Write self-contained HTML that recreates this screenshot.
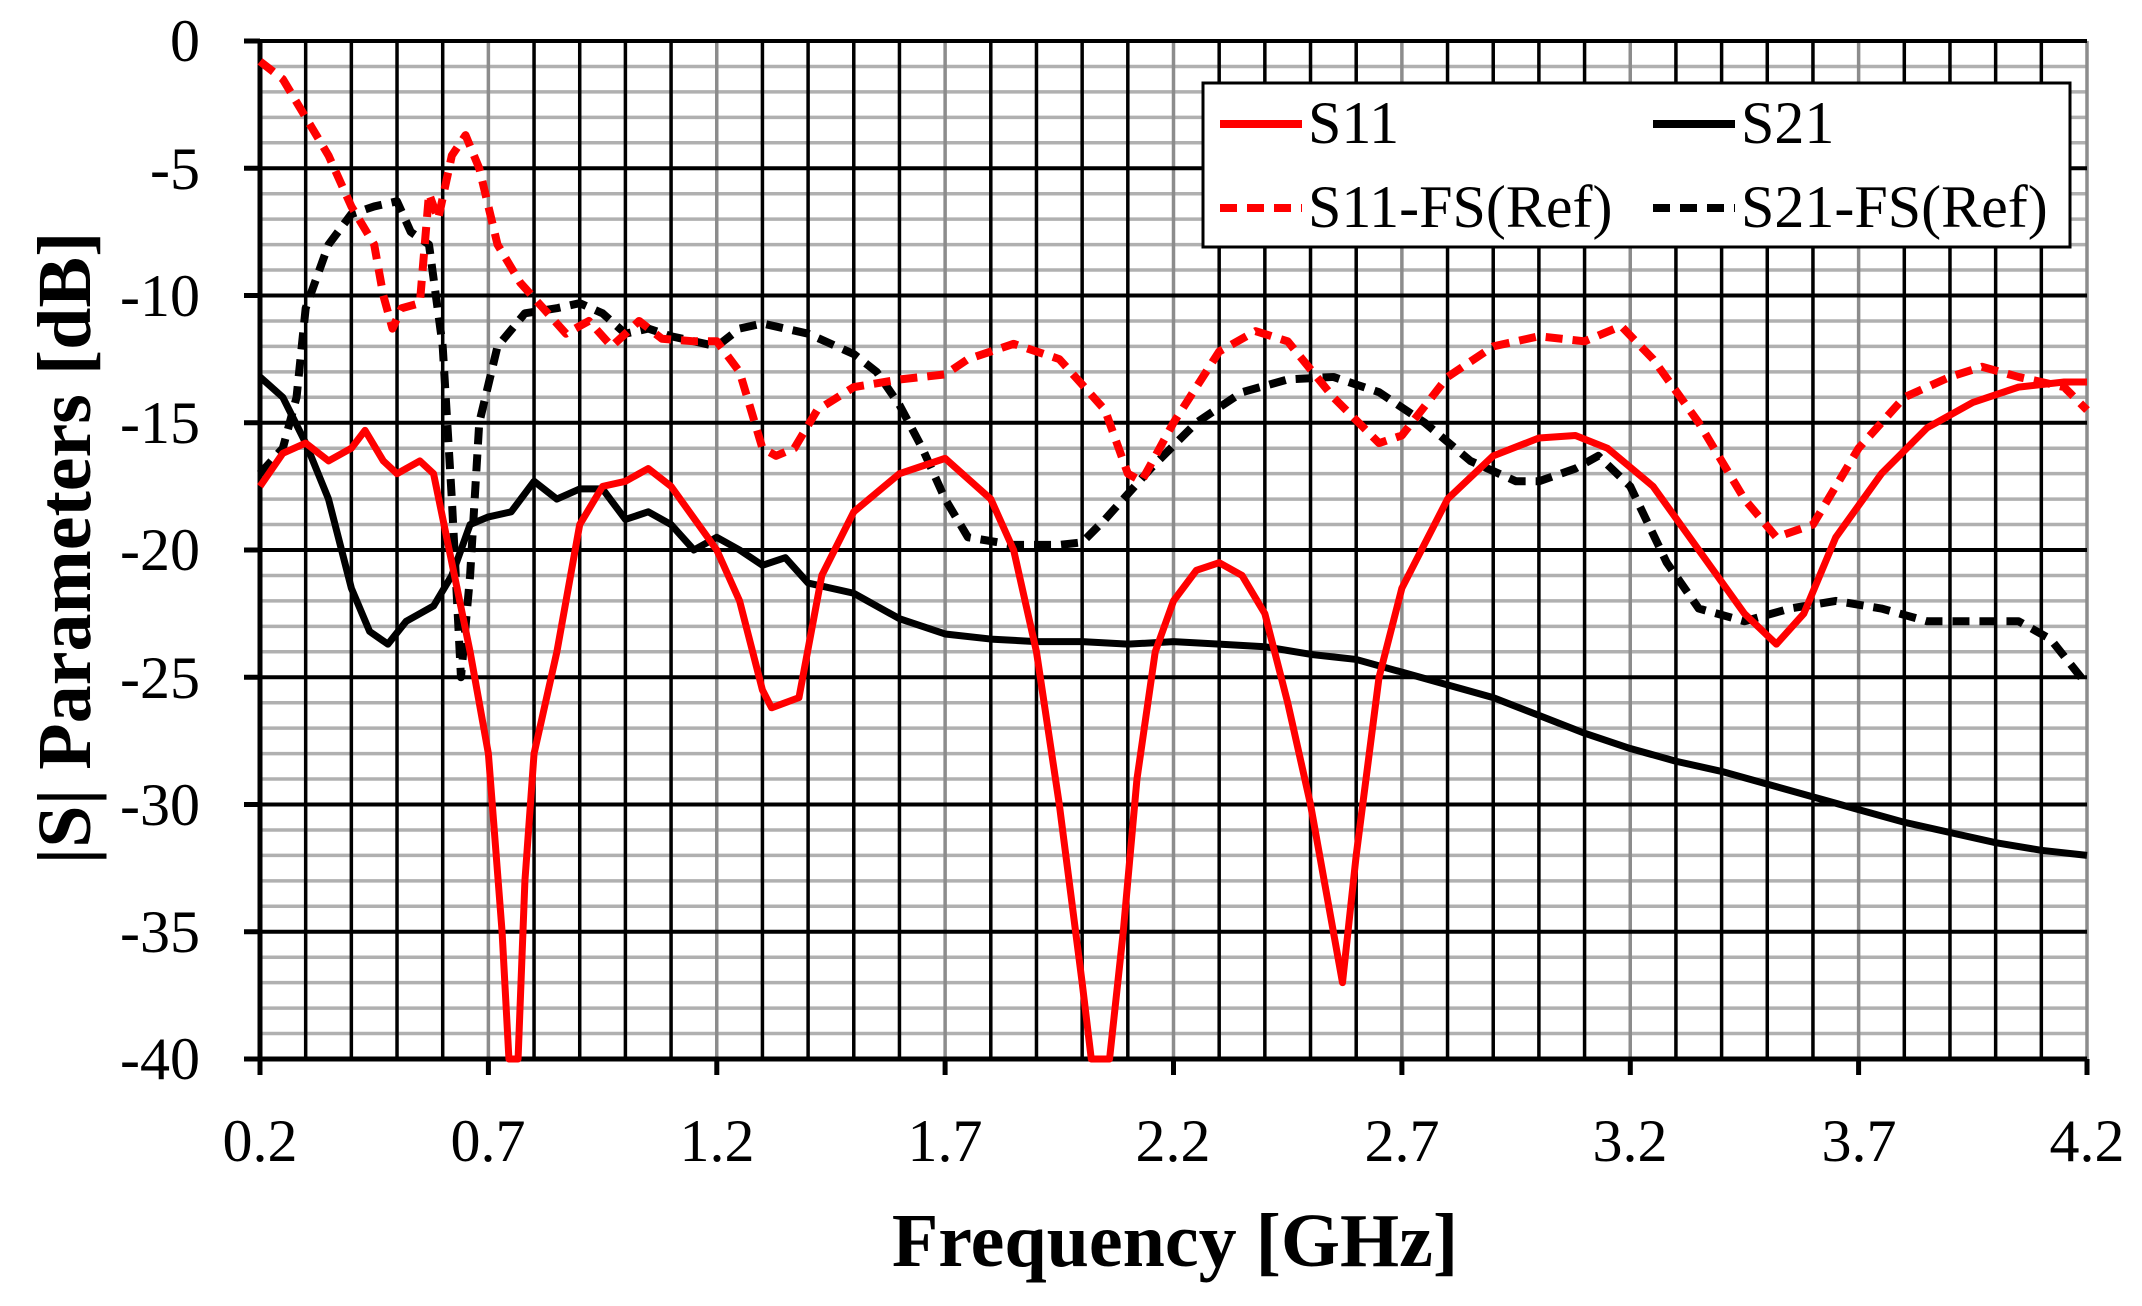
<!DOCTYPE html>
<html><head><meta charset="utf-8"><style>
html,body{margin:0;padding:0;background:#fff;}
svg{display:block;}
text{font-family:"Liberation Serif",serif;fill:#000;}
</style></head><body>
<svg width="2142" height="1306" viewBox="0 0 2142 1306" xmlns="http://www.w3.org/2000/svg">
<rect width="2142" height="1306" fill="#fff"/>
<g transform="matrix(456.75 0 0 -25.45 168.65 41)" fill="none">
<path vector-effect="non-scaling-stroke" stroke="#b0b0b0" stroke-width="3.5" d="M0.2 -1H4.2M0.2 -2H4.2M0.2 -3H4.2M0.2 -4H4.2M0.2 -6H4.2M0.2 -7H4.2M0.2 -8H4.2M0.2 -9H4.2M0.2 -11H4.2M0.2 -12H4.2M0.2 -13H4.2M0.2 -14H4.2M0.2 -16H4.2M0.2 -17H4.2M0.2 -18H4.2M0.2 -19H4.2M0.2 -21H4.2M0.2 -22H4.2M0.2 -23H4.2M0.2 -24H4.2M0.2 -26H4.2M0.2 -27H4.2M0.2 -28H4.2M0.2 -29H4.2M0.2 -31H4.2M0.2 -32H4.2M0.2 -33H4.2M0.2 -34H4.2M0.2 -36H4.2M0.2 -37H4.2M0.2 -38H4.2M0.2 -39H4.2"/>
<path vector-effect="non-scaling-stroke" stroke="#8c8c8c" stroke-width="3.5" d="M0.7 0V-40M1.2 0V-40M1.7 0V-40M2.2 0V-40M2.7 0V-40M3.2 0V-40M3.7 0V-40M4.2 0V-40"/>
<path vector-effect="non-scaling-stroke" stroke="#000" stroke-width="3.5" d="M0.3 0V-40M0.4 0V-40M0.5 0V-40M0.6 0V-40M0.8 0V-40M0.9 0V-40M1.0 0V-40M1.1 0V-40M1.3 0V-40M1.4 0V-40M1.5 0V-40M1.6 0V-40M1.8 0V-40M1.9 0V-40M2.0 0V-40M2.1 0V-40M2.3 0V-40M2.4 0V-40M2.5 0V-40M2.6 0V-40M2.8 0V-40M2.9 0V-40M3.0 0V-40M3.1 0V-40M3.3 0V-40M3.4 0V-40M3.5 0V-40M3.6 0V-40M3.8 0V-40M3.9 0V-40M4.0 0V-40M4.1 0V-40"/>
<path vector-effect="non-scaling-stroke" stroke="#000" stroke-width="4" d="M0.2 0H4.2M0.2 -5H4.2M0.2 -10H4.2M0.2 -15H4.2M0.2 -20H4.2M0.2 -25H4.2M0.2 -30H4.2M0.2 -35H4.2"/>
<path vector-effect="non-scaling-stroke" stroke="#000" stroke-width="5" d="M0.2 0V-40H4.2"/>

<path vector-effect="non-scaling-stroke" stroke="#000" stroke-width="8" stroke-dasharray="17 10" stroke-linejoin="round" d="M0.2 -17L0.25 -16L0.28 -14L0.3 -10.5L0.35 -8L0.4 -6.8L0.45 -6.5L0.5 -6.3L0.53 -7.5L0.57 -8L0.6 -12L0.62 -18L0.64 -25L0.66 -21L0.68 -15L0.72 -12L0.78 -10.7L0.85 -10.5L0.9 -10.3L0.95 -10.7L1.0 -11.5L1.05 -11.3L1.1 -11.6L1.2 -12L1.25 -11.3L1.3 -11.1L1.4 -11.5L1.5 -12.3L1.55 -13L1.6 -14.3L1.65 -16L1.7 -18L1.75 -19.5L1.85 -19.8L1.95 -19.8L2.0 -19.7L2.05 -18.8L2.15 -16.8L2.25 -15L2.35 -13.8L2.45 -13.3L2.55 -13.2L2.65 -13.8L2.75 -15L2.85 -16.5L2.95 -17.3L3.0 -17.3L3.08 -16.8L3.13 -16.3L3.2 -17.5L3.28 -20.5L3.35 -22.3L3.45 -22.8L3.55 -22.3L3.65 -22L3.75 -22.3L3.85 -22.8L3.95 -22.8L4.05 -22.8L4.12 -23.5L4.2 -25.3"/>
<path vector-effect="non-scaling-stroke" stroke="#ff0000" stroke-width="8" stroke-dasharray="17 10" stroke-linejoin="round" d="M0.2 -0.8L0.25 -1.5L0.3 -3L0.35 -4.5L0.4 -6.5L0.45 -8L0.47 -10L0.49 -11.3L0.51 -10.5L0.55 -10.3L0.57 -6L0.59 -7L0.62 -4.5L0.65 -3.7L0.68 -5L0.72 -8L0.77 -9.5L0.82 -10.5L0.87 -11.5L0.92 -11L0.97 -12L1.03 -11L1.08 -11.7L1.15 -11.8L1.2 -11.8L1.25 -13L1.3 -16L1.33 -16.3L1.37 -16L1.42 -14.5L1.5 -13.6L1.6 -13.3L1.7 -13.1L1.75 -12.5L1.85 -11.9L1.95 -12.5L2.05 -14.5L2.1 -17L2.13 -17.3L2.2 -15L2.3 -12.2L2.38 -11.4L2.45 -11.8L2.55 -14L2.65 -15.8L2.7 -15.5L2.8 -13.2L2.9 -12L3.0 -11.6L3.1 -11.8L3.18 -11.2L3.25 -12.5L3.35 -15L3.45 -18L3.52 -19.5L3.6 -19L3.7 -16L3.8 -14L3.9 -13.2L3.97 -12.8L4.05 -13.2L4.15 -13.6L4.2 -14.5"/>
<path vector-effect="non-scaling-stroke" stroke="#000" stroke-width="7" stroke-linejoin="round" d="M0.2 -13.2L0.25 -14L0.3 -15.8L0.35 -18L0.4 -21.5L0.44 -23.2L0.48 -23.7L0.52 -22.8L0.58 -22.2L0.62 -21L0.66 -19L0.7 -18.7L0.75 -18.5L0.8 -17.3L0.85 -18L0.9 -17.6L0.95 -17.6L1.0 -18.8L1.05 -18.5L1.1 -19L1.15 -20L1.2 -19.5L1.25 -20L1.3 -20.6L1.35 -20.3L1.4 -21.3L1.5 -21.7L1.6 -22.7L1.7 -23.3L1.8 -23.5L1.9 -23.6L2.0 -23.6L2.1 -23.7L2.2 -23.6L2.3 -23.7L2.4 -23.8L2.5 -24.1L2.6 -24.3L2.7 -24.8L2.8 -25.3L2.9 -25.8L3.0 -26.5L3.1 -27.2L3.2 -27.8L3.3 -28.3L3.4 -28.7L3.5 -29.2L3.6 -29.7L3.7 -30.2L3.8 -30.7L3.9 -31.1L4.0 -31.5L4.1 -31.8L4.2 -32"/>
<path vector-effect="non-scaling-stroke" stroke="#ff0000" stroke-width="7" stroke-linejoin="round" d="M0.2 -17.5L0.25 -16.2L0.3 -15.8L0.35 -16.5L0.4 -16L0.43 -15.3L0.47 -16.5L0.5 -17L0.55 -16.5L0.58 -17L0.62 -20.5L0.66 -24L0.7 -28L0.73 -35L0.745 -40L0.765 -40L0.78 -33L0.8 -28L0.85 -24L0.9 -19L0.95 -17.5L1.0 -17.3L1.05 -16.8L1.1 -17.5L1.2 -20L1.25 -22L1.3 -25.5L1.32 -26.2L1.38 -25.8L1.43 -21L1.5 -18.5L1.6 -17L1.7 -16.4L1.8 -18L1.85 -20L1.9 -24L1.95 -30L2.0 -37L2.02 -40L2.06 -40L2.09 -35L2.12 -29L2.16 -24L2.2 -22L2.25 -20.8L2.3 -20.5L2.35 -21L2.4 -22.5L2.45 -26L2.5 -30L2.55 -35L2.57 -37L2.6 -32L2.65 -25L2.7 -21.5L2.8 -18L2.9 -16.3L3.0 -15.6L3.08 -15.5L3.15 -16L3.25 -17.5L3.35 -20L3.45 -22.5L3.52 -23.7L3.58 -22.5L3.65 -19.5L3.75 -17L3.85 -15.2L3.95 -14.2L4.05 -13.6L4.15 -13.4L4.2 -13.4"/>
</g>
<path stroke="#000" stroke-width="5" fill="none" d="M260 1059v16M488.4 1059v16M716.8 1059v16M945.1 1059v16M1173.5 1059v16M1401.9 1059v16M1630.3 1059v16M1858.6 1059v16M2087 1059v16M244 41h16M244 168.25h16M244 295.5h16M244 422.75h16M244 550h16M244 677.25h16M244 804.5h16M244 931.75h16M244 1059h16"/>
<g font-size="60" text-anchor="end">
<text x="200" y="61">0</text>
<text x="200" y="189">-5</text>
<text x="200" y="316">-10</text>
<text x="200" y="443">-15</text>
<text x="200" y="570">-20</text>
<text x="200" y="698">-25</text>
<text x="200" y="825">-30</text>
<text x="200" y="952">-35</text>
<text x="200" y="1079">-40</text>
</g>
<g font-size="60" text-anchor="middle">
<text x="260" y="1161">0.2</text>
<text x="488" y="1161">0.7</text>
<text x="717" y="1161">1.2</text>
<text x="945" y="1161">1.7</text>
<text x="1173" y="1161">2.2</text>
<text x="1402" y="1161">2.7</text>
<text x="1630" y="1161">3.2</text>
<text x="1859" y="1161">3.7</text>
<text x="2087" y="1161">4.2</text>
</g>
<text x="1175" y="1266" font-size="76" font-weight="bold" text-anchor="middle">Frequency [GHz]</text>
<text transform="translate(90 548) rotate(-90)" font-size="76" font-weight="bold" text-anchor="middle">|S| Parameters [dB]</text>
<rect x="1203" y="83" width="867" height="164" fill="#fff" stroke="#000" stroke-width="3"/>
<line x1="1220" y1="124" x2="1302" y2="124" stroke="#ff0000" stroke-width="8"/>
<line x1="1653" y1="124" x2="1735" y2="124" stroke="#000" stroke-width="8"/>
<line x1="1220" y1="208" x2="1302" y2="208" stroke="#ff0000" stroke-width="8" stroke-dasharray="17 10"/>
<line x1="1653" y1="208" x2="1735" y2="208" stroke="#000" stroke-width="8" stroke-dasharray="17 10"/>
<g font-size="60">
<text x="1308" y="143">S11</text>
<text x="1741" y="143">S21</text>
<text x="1308" y="227">S11-FS(Ref)</text>
<text x="1741" y="227">S21-FS(Ref)</text>
</g>
</svg>
</body></html>
